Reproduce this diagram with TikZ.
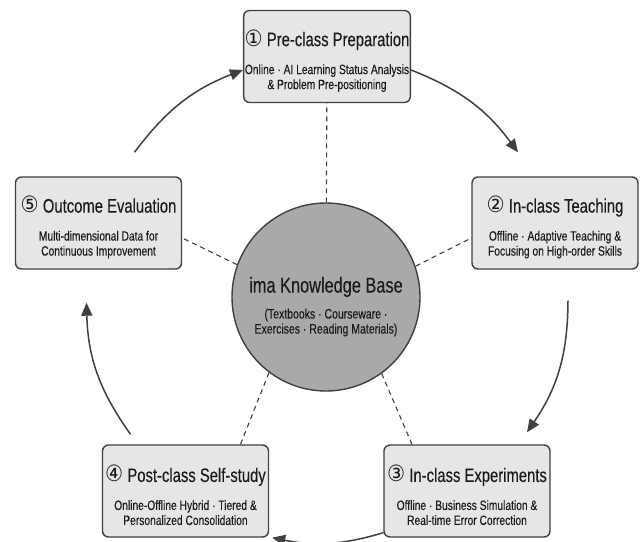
\documentclass[tikz,border=0pt]{standalone}
\usepackage{fontspec}
\setmainfont{Liberation Sans}[FakeStretch=0.76, FakeBold=0.2]
\newfontfamily\circfont{DejaVu Sans}[FakeStretch=0.9, Scale=1.15]
\usetikzlibrary{arrows.meta}
\definecolor{stagefill}{HTML}{E6E6E6}
\definecolor{hubfill}{HTML}{A9A9A9}
\definecolor{edgegray}{HTML}{404040}
\definecolor{inkgray}{HTML}{1A1A1A}
\newcommand{\stagetitle}[2]{{\fontsize{19.5}{22}\selectfont\rule{0pt}{25pt}{\circfont #1} #2}}

\begin{document}
\begin{tikzpicture}[x=1pt, y=1pt,
  stage/.style={draw=edgegray, line width=1.4pt, fill=stagefill, rounded corners=6pt,
    minimum width=166pt, minimum height=92pt, inner xsep=1pt, align=center,
    text=inkgray, font=\fontsize{13.5}{15}\selectfont},
  hub/.style={circle, draw=edgegray, line width=1.4pt, fill=hubfill, minimum size=188pt,
    inner sep=0pt, align=center, text=inkgray, font=\fontsize{13.8}{15}\selectfont},
  link/.style={draw=edgegray, line width=1.1pt, dash pattern=on 5pt off 4pt},
  flow/.style={draw=edgegray, line width=1.5pt, -{Triangle[length=13pt, width=11pt]}, bend left=16}]
  \fill[white] (0,0) rectangle (644,-541);
  \useasboundingbox (0,0) rectangle (644,-541);
  \node[hub] (hub) at (326,-297) {{\fontsize{21.5}{24}\selectfont\rule{0pt}{35pt}ima Knowledge Base}\\[11pt]
    (Textbooks · Courseware ·\\ Exercises · Reading Materials)};
  \node[stage] (n1) at (327,-56.5) {\stagetitle{①}{Pre-class Preparation}\\[13pt]
    Online · AI Learning Status Analysis\\ \& Problem Pre-positioning};
  \node[stage] (n2) at (555,-223) {\stagetitle{②}{In-class Teaching}\\[13pt]
    Offline · Adaptive Teaching \&\\ Focusing on High-order Skills};
  \node[stage] (n3) at (467,-491) {\stagetitle{③}{In-class Experiments}\\[13pt]
    Offline · Business Simulation \&\\ Real-time Error Correction};
  \node[stage] (n4) at (185.5,-491) {\stagetitle{④}{Post-class Self-study}\\[13pt]
    Online-Offline Hybrid · Tiered \&\\ Personalized Consolidation};
  \node[stage] (n5) at (98.5,-223) {\stagetitle{⑤}{Outcome Evaluation}\\[13pt]
    Multi-dimensional Data for\\ Continuous Improvement};
  \draw[link] (hub) -- (n1);
  \draw[link] (hub.19.6) -- ([yshift=-15pt]n2.west);
  \draw[link] (hub.306.4) -- ([xshift=-55pt]n3.north);
  \draw[link] (hub.233.6) -- ([xshift=55pt]n4.north);
  \draw[link] (hub.160.4) -- ([yshift=-15pt]n5.east);
  \draw[flow] ([yshift=-13.5pt]n1.east) to ([shift={(-37pt,24pt)}]n2.north);
  \draw[flow, bend left=17] ([shift={(13pt,-31pt)}]n2.south) to ([shift={(60pt,12pt)}]n3.north);
  \draw[flow, bend left=14] ([yshift=5pt]n3.south west) to ([xshift=3pt]n4.south east);
  \draw[flow, bend left=17] ([shift={(-55pt,10pt)}]n4.north) to ([shift={(-12pt,-33pt)}]n5.south);
  \draw[flow] ([shift={(36pt,24pt)}]n5.north) to ([yshift=-13.5pt]n1.west);
\end{tikzpicture}
\end{document}
